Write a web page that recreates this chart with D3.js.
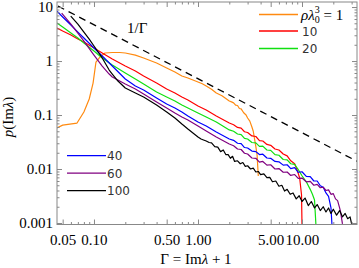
<!DOCTYPE html>
<html lang="en">
<head>
<meta charset="UTF-8">
<title>p(Im lambda)</title>
<script src="https://cdn.jsdelivr.net/npm/d3@7"></script>
<style>
  body { margin: 0; background: #fff; }
  .tick text { font-family: "Liberation Serif", serif; font-size: 15px; fill: #000; }
  .tick line { stroke: #888; }
  .lbl { font-family: "Liberation Serif", serif; font-size: 15px; fill: #000; }
  .leg { font-family: "DejaVu Sans", sans-serif; font-size: 12px; fill: #333; }
  .series { fill: none; stroke-width: 1.2px; stroke-linejoin: round; }
</style>
</head>
<body>
<svg id="chart" width="359" height="268"></svg>
<script>
// axis setup
const xDomain = [0.0441, 33.8];
const yDomain = [0.000938, 12.4];
const xMajor = [0.05, 0.1, 0.5, 1, 5, 10];
const xMajorLabels = ["0.05", "0.10", "0.50", "1.00", "5.00", "10.00"];
const xMinor = [0.06, 0.07, 0.08, 0.09, 0.2, 0.3, 0.4, 0.6, 0.7, 0.8, 0.9, 2, 3, 4, 6, 7, 8, 9, 20, 30];
const yMajor = [0.001, 0.01, 0.1, 1, 10];
const yMajorLabels = ["0.001", "0.01", "0.1", "1", "10"];
const yMinor = [0.002, 0.003, 0.004, 0.005, 0.006, 0.007, 0.008, 0.009,
                0.02, 0.03, 0.04, 0.05, 0.06, 0.07, 0.08, 0.09,
                0.2, 0.3, 0.4, 0.5, 0.6, 0.7, 0.8, 0.9,
                2, 3, 4, 5, 6, 7, 8, 9];

// [Gamma, p]
const rho1 = [[0.0441,0.0575],[0.05,0.065],[0.0687,0.071],[0.08,0.1135],[0.09,0.198],[0.098,0.39],
  [0.1045,0.958],[0.1145,1.19],[0.1276,1.41],[0.15,1.44],[0.177,1.44],[0.2,1.41],[0.25,1.29],
  [0.3,1.14],[0.4,0.918],[0.5,0.742],[0.6,0.626],[0.7,0.528],[0.8,0.484],[1.0,0.409],[1.1,0.38],
  [1.2,0.344],[1.35,0.30],[1.5,0.255],[1.7,0.228],[2.0,0.182],[2.1,0.175],[2.2,0.168],[2.3,0.152],
  [2.4,0.150],[2.5,0.132],[2.6,0.130],[2.75,0.110],[2.9,0.100],[3.0,0.088],[3.15,0.077],[3.3,0.060],
  [3.4,0.050],[3.5,0.036],[3.6,0.026],[3.7,0.0182],[3.8,0.0074]];
const rho10 = [[0.0441,4.08],[0.05,3.59],[0.06,3.03],[0.07,2.55],[0.08,2.25],[0.1,1.74],[0.12,1.41],
  [0.15,1.09],[0.2,0.81],[0.25,0.653],[0.3,0.528],[0.4,0.392],[0.5,0.303],[0.6,0.255],[0.7,0.216],
  [0.8,0.19],[1.0,0.147],[1.2,0.124],[1.5,0.096],[2,0.071],[2.2,0.066],[2.4,0.059],[2.6,0.057],
  [2.8,0.049],[3.0,0.0475],[3.3,0.041],[3.6,0.040],[3.9,0.0335],[4.2,0.033],[4.6,0.0285],[5.0,0.0275],
  [5.5,0.0235],[6.0,0.0225],[6.6,0.019],[7.2,0.0175],[7.8,0.0142],[8.5,0.0125],[9.0,0.0095],
  [9.5,0.0068],[9.9,0.0033],[10.0,0.00096]];
const rho20 = [[0.0441,5.05],[0.05,4.26],[0.06,3.30],[0.07,2.67],[0.08,2.15],[0.1,1.53],[0.12,1.14],
  [0.15,0.843],[0.2,0.6],[0.25,0.464],[0.3,0.375],[0.4,0.267],[0.5,0.216],[0.6,0.182],[0.7,0.153],
  [0.8,0.135],[1.0,0.109],[1.2,0.092],[1.5,0.074],[2,0.053],[2.2,0.050],[2.4,0.0445],[2.6,0.0435],
  [2.8,0.037],[3.0,0.036],[3.3,0.031],[3.6,0.0305],[3.9,0.0262],[4.2,0.0265],[4.6,0.0225],[5.0,0.0222],
  [5.5,0.0185],[6.0,0.0180],[6.6,0.0150],[7.2,0.0148],[7.8,0.0125],[8.5,0.0122],[9.2,0.0098],
  [10,0.0075],[11,0.0058],[12,0.0042],[12.6,0.0034],[13.2,0.00267],[13.6,0.00096]];
const rho40 = [[0.0441,8.43],[0.05,6.53],[0.06,4.64],[0.07,3.44],[0.08,2.67],[0.1,1.74],[0.12,1.24],
  [0.15,0.808],[0.2,0.464],[0.25,0.344],[0.3,0.29],[0.4,0.206],[0.5,0.16],[0.6,0.135],[0.7,0.114],
  [0.8,0.096],[1.0,0.074],[1.2,0.0625],[1.5,0.0484],[2,0.036],[2.2,0.034],[2.4,0.030],[2.6,0.0295],
  [2.8,0.0250],[3.0,0.0245],[3.3,0.0215],[3.6,0.0210],[3.9,0.0185],[4.2,0.0188],[4.6,0.0160],
  [5.0,0.0158],[5.5,0.0138],[6.0,0.0136],[6.6,0.0118],[7.2,0.0120],[7.8,0.0102],[8.5,0.0106],
  [9.2,0.0087],[10,0.0089],[11,0.0073],[12,0.0072],[13,0.0060],[14,0.0060],[15,0.0049],[16,0.0046],
  [17,0.0036],[18,0.0031],[19,0.0019],[19.4,0.00096]];
const rho60 = [[0.0489,7.74],[0.06,4.84],[0.07,3.3],[0.08,2.34],[0.1,1.29],[0.12,0.808],[0.14,0.574],
  [0.15,0.506],[0.2,0.375],[0.25,0.303],[0.3,0.245],[0.4,0.174],[0.5,0.135],[0.6,0.109],[0.7,0.092],
  [0.8,0.081],[1.0,0.0625],[1.2,0.0506],[1.5,0.0392],[2,0.029],[2.2,0.027],[2.4,0.0235],[2.6,0.0230],
  [2.8,0.0196],[3.0,0.0190],[3.3,0.0160],[3.6,0.0158],[3.9,0.0134],[4.2,0.0138],[4.6,0.0118],
  [5.0,0.0120],[5.5,0.0100],[6.0,0.0102],[6.6,0.0087],[7.2,0.0088],[7.8,0.0076],[8.5,0.0079],
  [9.2,0.0067],[10,0.0068],[11,0.0058],[12,0.0059],[13,0.0050],[14,0.0052],[15,0.0045],[16,0.0046],
  [17,0.0040],[18,0.0041],[19,0.0034],[20,0.0035],[21,0.0028],[22,0.0026],[23,0.0019],[23.5,0.0016],
  [24.5,0.00096]];
const rho100 = [[0.0598,6.81],[0.07,4.84],[0.08,3.44],[0.09,2.55],[0.1,1.9],[0.12,1.14],[0.14,0.681],
  [0.15,0.574],[0.17,0.426],[0.2,0.316],[0.25,0.255],[0.3,0.216],[0.4,0.153],[0.5,0.114],[0.6,0.088],
  [0.7,0.068],[0.8,0.055],[1.0,0.0392],[1.07,0.036],[1.13,0.0345],[1.2,0.033],[1.28,0.031],
  [1.35,0.0305],[1.45,0.026],[1.55,0.0255],[1.65,0.021],[1.75,0.0225],[1.85,0.0185],[1.95,0.0185],
  [2.05,0.0158],[2.15,0.0172],[2.25,0.0138],[2.4,0.0142],[2.55,0.0125],[2.7,0.0132],[2.85,0.0112],
  [3.0,0.0115],[3.2,0.0100],[3.4,0.0104],[3.6,0.0088],[3.8,0.0090],[4.0,0.0079],[4.3,0.0081],
  [4.6,0.0069],[4.9,0.0070],[5.2,0.0058],[5.6,0.0060],[6.0,0.0048],[6.4,0.0050],[6.8,0.0039],
  [7.2,0.0042],[7.7,0.0034],[8.2,0.0036],[8.8,0.0028],[9.4,0.0032],[10,0.0025],[10.7,0.0029],
  [11.5,0.0021],[12.3,0.0025],[13.2,0.0019],[14,0.0022],[15,0.0017],[16,0.0020],[17,0.0016],
  [18,0.0019],[19,0.0015],[20,0.0018],[21.5,0.0014],[23,0.0017],[24.5,0.0013],[26,0.0015],
  [27.5,0.0012],[29,0.0013],[30,0.00096]];

const series = [rho1, rho10, rho20, rho40, rho60, rho100];
const colors = ["#ff8a10", "#ff0000", "#10e010", "#0000ff", "#800080", "#000000"];
const topLegend = ["10", "20"];
const bottomLegend = ["40", "60", "100"];

// dashed reference c / Gamma
const refCoef = 0.47;
const refGamma = [0.045, 33.8];

const svg = d3.select("#chart");
const L = 57, R = 357, T = 2, B = 224.5;
const x = d3.scaleLog().domain(xDomain).range([L, R]);
const y = d3.scaleLog().domain(yDomain).range([B, T]);

svg.append("clipPath").attr("id", "clip")
  .append("rect").attr("x", L).attr("y", T).attr("width", R - L).attr("height", B - T);

const line = d3.line().x(d => x(d[0])).y(d => y(d[1]));
const plot = svg.append("g").attr("clip-path", "url(#clip)");

series.forEach((s, i) => {
  plot.append("path").datum(s).attr("class", "series")
    .style("stroke", colors[i]).attr("d", line);
});

plot.append("path").datum(refGamma.map(g => [g, refCoef / g]))
  .attr("fill", "none").attr("stroke", "#000").attr("stroke-width", 1.3)
  .attr("stroke-dasharray", "7,5").attr("d", line);

// frame + ticks
function addAxis(gen, tr, vals, labels, size, pad) {
  const g = svg.append("g").attr("transform", tr)
    .call(gen.tickValues(vals).tickSize(-size).tickPadding(pad)
      .tickFormat((d, i) => labels ? labels[i] : ""));
  g.select(".domain").remove();
  return g;
}
addAxis(d3.axisBottom(x), `translate(0,${B})`, xMajor, xMajorLabels, 5, 10);
addAxis(d3.axisBottom(x), `translate(0,${B})`, xMinor, null, 2.5, 0);
addAxis(d3.axisTop(x), `translate(0,${T})`, xMajor, null, 5, 0);
addAxis(d3.axisTop(x), `translate(0,${T})`, xMinor, null, 2.5, 0);
addAxis(d3.axisLeft(y), `translate(${L},0)`, yMajor, yMajorLabels, 5, 4);
addAxis(d3.axisLeft(y), `translate(${L},0)`, yMinor, null, 2.5, 0);
addAxis(d3.axisRight(y), `translate(${R},0)`, yMajor, null, 5, 0);
addAxis(d3.axisRight(y), `translate(${R},0)`, yMinor, null, 2.5, 0);

svg.append("rect").attr("x", L).attr("y", T).attr("width", R - L).attr("height", B - T)
  .attr("fill", "none").attr("stroke", "#888");

// axis titles
const yt = svg.append("text").attr("class", "lbl").attr("text-anchor", "middle")
  .attr("transform", "translate(13,117) rotate(-90)");
yt.append("tspan").attr("font-style", "italic").text("p");
yt.append("tspan").text("(Im");
yt.append("tspan").attr("font-style", "italic").text("λ");
yt.append("tspan").text(")");

const xt = svg.append("text").attr("class", "lbl").attr("text-anchor", "middle")
  .attr("x", 196).attr("y", 264);
xt.append("tspan").text("Γ = Im");
xt.append("tspan").attr("font-style", "italic").text("λ");
xt.append("tspan").text(" + 1");

svg.append("text").attr("class", "lbl").attr("x", 127).attr("y", 33).text("1/Γ");

// legends
function legendRow(x0, yy, color) {
  svg.append("line").attr("x1", x0).attr("x2", x0 + 39).attr("y1", yy).attr("y2", yy)
    .attr("stroke", color).attr("stroke-width", 1.3);
}
legendRow(259, 14.5, colors[0]);
const first = svg.append("text").attr("class", "lbl").attr("x", 301).attr("y", 19.5);
first.append("tspan").attr("font-style", "italic").text("ρλ");
first.append("tspan").attr("font-size", 10).attr("dy", 3).text("0");
first.append("tspan").attr("font-size", 10).attr("dx", -5).attr("dy", -10).text("3");
first.append("tspan").attr("dy", 7).text(" = 1");

topLegend.forEach((t, i) => {
  const yy = 31 + i * 17.5;
  legendRow(259, yy, colors[i + 1]);
  svg.append("text").attr("class", "leg").attr("x", 302).attr("y", yy + 4.5).text(t);
});
bottomLegend.forEach((t, i) => {
  const yy = 155.7 + i * 17.5;
  legendRow(67, yy, colors[i + 3]);
  svg.append("text").attr("class", "leg").attr("x", 107).attr("y", yy + 4.5).text(t);
});
</script>
</body>
</html>
